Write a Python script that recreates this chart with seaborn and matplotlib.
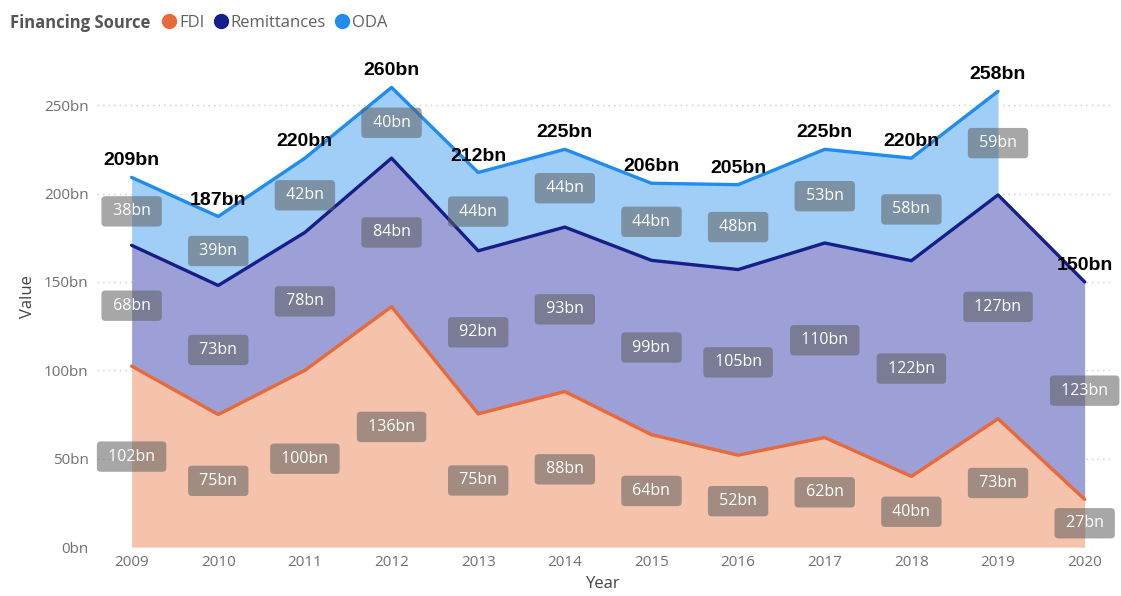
import numpy as np
import matplotlib.pyplot as plt
import seaborn as sns
import pandas as pd
from matplotlib.lines import Line2D

# ==========================================
# Data (in bn)
# ==========================================
years = [2009, 2010, 2011, 2012, 2013, 2014, 2015, 2016, 2017, 2018, 2019, 2020]
fdi = [102.4, 75, 100, 136, 75.4, 88, 63.6, 52, 62, 40, 72.6, 27]
remittances = [68.3, 73, 78, 84, 92.2, 93, 98.6, 105, 110, 122, 126.6, 123]
oda = [38.4, 39, 42, 40, 44.3, 44, 43.6, 48, 53, 58, 58.6, np.nan]
series_names = ["FDI", "Remittances", "ODA"]
yticks = [0, 50, 100, 150, 200, 250]

line_colors = {"FDI": "#E8693A", "Remittances": "#151E8A", "ODA": "#1E8CF0"}
fill_colors = {"FDI": "#F5C3AB", "Remittances": "#9CA0D7", "ODA": "#A0CEF7"}

# stacked tops
x = np.array(years, dtype=float)
s1 = np.array(fdi, dtype=float)
s2 = s1 + np.array(remittances, dtype=float)
s3 = s2 + np.array(oda, dtype=float)
totals = np.nansum(np.vstack([fdi, remittances, oda]), axis=0)

df = pd.DataFrame({
    "Year": years * 3,
    "Top": list(s1) + list(s2) + list(s3),
    "Source": ["FDI"] * 12 + ["Remittances"] * 12 + ["ODA"] * 12,
})

# ==========================================
# Figure
# ==========================================
sns.set_theme(style="white")
plt.rcParams["font.family"] = ["Open Sans", "DejaVu Sans"]

fig = plt.figure(figsize=(11.21, 5.96), dpi=100)
ax = fig.add_axes([0.0865, 0.082, 0.9035, 0.8425])

# fills (stacked)
ax.fill_between(x, 0, s1, color=fill_colors["FDI"], linewidth=0, zorder=1)
ax.fill_between(x, s1, s2, color=fill_colors["Remittances"], linewidth=0, zorder=1)
ax.fill_between(x, s2, s3, color=fill_colors["ODA"], linewidth=0, zorder=1)

# lines
sns.lineplot(data=df, x="Year", y="Top", hue="Source", palette=line_colors,
             hue_order=series_names, linewidth=2.4, legend=False, ax=ax,
             zorder=3, estimator=None)

# segment labels (centered in each band)
box = dict(boxstyle="round,pad=0.45,rounding_size=0.25", fc="#5f5f5f", ec="none", alpha=0.55)
for vals, lo in [(fdi, np.zeros(12)), (remittances, s1), (oda, s2)]:
    for xi, v, b in zip(x, vals, lo):
        if np.isnan(v):
            continue
        ax.text(xi, b + v / 2, f" {v:.0f}bn ", ha="center", va="center",
                fontsize=11.5, color="white", bbox=box, zorder=5)

# total labels
tops = np.where(np.isnan(s3), s2, s3)
for xi, t, tv in zip(x, tops, totals):
    ax.text(xi, t + 4.5, f"{tv:.0f}bn", ha="center", va="bottom", fontsize=14,
            fontweight="bold", color="black", family=["Liberation Sans", "DejaVu Sans"],
            zorder=6)

# axes styling
ax.set_xlim(2008.6, 2020.29)
ax.set_ylim(0, 284)
ax.set_xticks(years)
ax.set_xticklabels([str(y) for y in years])
ax.set_yticks(yticks)
ax.set_yticklabels([f"{t}bn" for t in yticks])
ax.tick_params(axis="both", length=0, labelsize=11, labelcolor="#707070", pad=6)
for g in yticks:
    ax.axhline(g, color="#cccccc", linestyle=(0, (1, 3)), linewidth=1, zorder=0.5)
sns.despine(ax=ax, left=True, bottom=True)
ax.set_xlabel("Year", fontsize=12, color="#444444", labelpad=4)
ax.set_ylabel("Value", fontsize=12, color="#444444", labelpad=6)

# legend on top
fig.text(0.009, 0.962, "Financing Source", fontsize=12, fontweight="bold",
         color="#555555", va="center")
handles = [Line2D([], [], marker="o", linestyle="none", markersize=10,
                  markerfacecolor=line_colors[n], markeredgecolor=line_colors[n])
           for n in series_names]
leg = fig.legend(handles, series_names, loc="center left", bbox_to_anchor=(0.146, 0.962),
                 ncol=3, frameon=False, handlelength=0.7, handletextpad=0.25,
                 columnspacing=0.6, fontsize=12, borderaxespad=0, borderpad=0)
for t in leg.get_texts():
    t.set_color("#606060")

fig.savefig("out.png", dpi=100)
